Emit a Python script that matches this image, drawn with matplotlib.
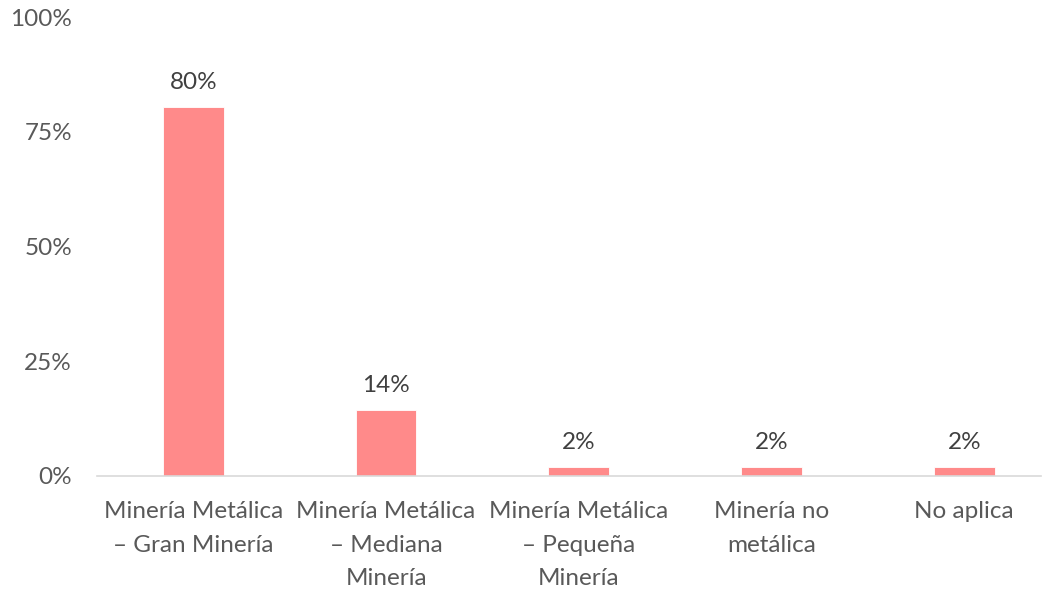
import matplotlib
matplotlib.use("Agg")
import matplotlib.pyplot as plt
from matplotlib.ticker import PercentFormatter

categorias = ["Minería Metálica\n– Gran Minería", "Minería Metálica\n– Mediana\nMinería",
              "Minería Metálica\n– Pequeña\nMinería", "Minería no\nmetálica", "No aplica"]
valores = [0.804, 0.143, 0.02, 0.02, 0.02]
etiquetas = ["80%", "14%", "2%", "2%", "2%"]

plt.rcParams['font.family'] = ['Lato', 'DejaVu Sans']
gris = '#595959'

fig = plt.figure(figsize=(10.54, 5.89), dpi=100)
ax = fig.add_axes([0.092, 0.192, 0.896, 0.779])

x = range(len(categorias))
ax.bar(x, valores, width=0.315, color='#FF8A8A', edgecolor='white', linewidth=0.6, zorder=2)

for i, v in enumerate(valores):
    ax.annotate(etiquetas[i], xy=(i, v), xytext=(0, 10), textcoords='offset points',
                ha='center', va='bottom', fontsize=17.5, color='#404040')

ax.set_xlim(-0.5, 4.4)
ax.set_ylim(0, 1)
ax.set_yticks([0, 0.25, 0.5, 0.75, 1.0])
ax.yaxis.set_major_formatter(PercentFormatter(1.0, decimals=0))
ax.set_xticks(list(x))
ax.set_xticklabels(categorias, fontsize=17.5, color=gris, linespacing=1.75)
ax.tick_params(axis='y', labelsize=17.5, labelcolor=gris, length=0, pad=18)
ax.tick_params(axis='x', length=0, pad=18)

for s in ['top', 'right', 'left']:
    ax.spines[s].set_visible(False)
ax.spines['bottom'].set_color('#D9D9D9')
ax.spines['bottom'].set_linewidth(1.2)

fig.savefig("out.png", dpi=100)
